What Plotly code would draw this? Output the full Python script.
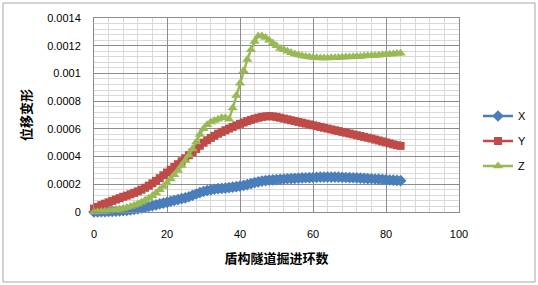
import plotly.graph_objects as go

rings = list(range(0, 85))

x_disp = [0, 0.000001, 0.000002, 0.000003, 0.000004, 0.000005, 0.000006, 0.000008, 0.00001, 0.000012,
          0.000015, 0.000018, 0.000022, 0.000027, 0.000033, 0.00004, 0.000046, 0.000052, 0.000058, 0.000064,
          0.00007, 0.000077, 0.000084, 0.00009, 0.000096, 0.000102, 0.00011, 0.00012, 0.00013, 0.00014,
          0.000148, 0.000155, 0.00016, 0.000164, 0.000168, 0.00017, 0.000173, 0.000176, 0.000179, 0.000183,
          0.000187, 0.000192, 0.000198, 0.000205, 0.000212, 0.000218, 0.000223, 0.000227, 0.00023, 0.000232,
          0.000234, 0.000236, 0.000238, 0.00024, 0.000241, 0.000243, 0.000244, 0.000246, 0.000247, 0.000248,
          0.000249, 0.00025, 0.000251, 0.000252, 0.000252, 0.000252, 0.000252, 0.000251, 0.00025, 0.000249,
          0.000248, 0.000247, 0.000246, 0.000244, 0.000243, 0.000241, 0.00024, 0.000238, 0.000237, 0.000235,
          0.000233, 0.000231, 0.00023, 0.000228, 0.000226]

y_disp = [0.000025, 0.000037, 0.00005, 0.00006, 0.00007, 0.00008, 0.00009, 0.0001, 0.00011, 0.000118,
          0.000128, 0.000138, 0.000149, 0.000161, 0.000175, 0.00019, 0.000207, 0.000225, 0.000244, 0.000265,
          0.000285, 0.000305, 0.000325, 0.000345, 0.000366, 0.000388, 0.00041, 0.000432, 0.000455, 0.000478,
          0.0005, 0.000518, 0.000535, 0.00055, 0.000565, 0.000578, 0.00059, 0.000602, 0.000614, 0.000625,
          0.000636, 0.000646, 0.000656, 0.000665, 0.000673, 0.00068, 0.000686, 0.00069, 0.000692, 0.00069,
          0.000686, 0.00068, 0.000674, 0.000668, 0.000662, 0.000656, 0.00065, 0.000644, 0.000638, 0.000632,
          0.000626, 0.00062, 0.000614, 0.000608, 0.000602, 0.000596, 0.00059, 0.000584, 0.000578, 0.000572,
          0.000566, 0.00056, 0.000554, 0.000548, 0.000542, 0.000536, 0.00053, 0.000523, 0.000516, 0.000509,
          0.000502, 0.000495, 0.000488, 0.000482, 0.000477]

z_disp = [0, 0.000001, 0.000003, 0.000005, 0.000008, 0.000011, 0.000015, 0.00002, 0.000026, 0.000033,
          0.00004, 0.000048, 0.000058, 0.00007, 0.000084, 0.0001, 0.000118, 0.000138, 0.00016, 0.000184,
          0.00021, 0.000238, 0.000268, 0.0003, 0.000335, 0.000372, 0.00041, 0.000455, 0.000505, 0.00056,
          0.0006, 0.00063, 0.00065, 0.00066, 0.00067, 0.00068, 0.00068, 0.00067, 0.00075, 0.00084,
          0.00093, 0.00102, 0.0011, 0.00117, 0.00123, 0.00127, 0.00127, 0.00126, 0.00124, 0.00122,
          0.0012, 0.00118, 0.00117, 0.00116, 0.00115, 0.00114, 0.001133, 0.001127, 0.001122, 0.001118,
          0.001115, 0.001113, 0.001112, 0.001112, 0.001112, 0.001113, 0.001114, 0.001115, 0.001116, 0.001118,
          0.001119, 0.00112, 0.001122, 0.001123, 0.001125, 0.001127, 0.001129, 0.00113, 0.001132, 0.001134,
          0.001136, 0.001138, 0.00114, 0.001143, 0.001145]

series_names = ["X", "Y", "Z"]
x_ticks = [0, 20, 40, 60, 80, 100]
y_ticks = [0, 0.0002, 0.0004, 0.0006, 0.0008, 0.001, 0.0012, 0.0014]
y_ticktext = ["0", "0.0002", "0.0004", "0.0006", "0.0008", "0.001", "0.0012", "0.0014"]
x_title = "盾构隧道掘进环数"
y_title = "位移变形"

colors = ["#4a7ebb", "#be4b48", "#98b954"]
symbols = ["diamond", "square", "triangle-up"]
sizes = [9, 8, 9]

fig = go.Figure()
for i, (name, vals) in enumerate(zip(series_names, [x_disp, y_disp, z_disp])):
    fig.add_trace(go.Scatter(
        x=rings, y=vals, name=name, mode="lines+markers",
        line=dict(color=colors[i], width=2.5),
        marker=dict(symbol=symbols[i], size=sizes[i], color=colors[i], line=dict(width=0)),
        cliponaxis=False, legendgroup=name,
    ))

W, H = 538, 285
ml, mr, mt, mb = 94, 79, 18, 73
pw, ph = W - ml - mr, H - mt - mb

fig.update_layout(
    width=W, height=H,
    margin=dict(l=ml, r=mr, t=mt, b=mb, autoexpand=False),
    paper_bgcolor="white", plot_bgcolor="white",
    font=dict(family="Liberation Sans, Arial, sans-serif", size=11, color="#000"),
    legend=dict(x=(478 - ml) / pw, y=(H - mb - 141) / ph, xanchor="left", yanchor="middle",
                font=dict(size=11), tracegroupgap=6, bgcolor="rgba(0,0,0,0)", itemwidth=30),
    xaxis=dict(range=[0, 100], tickvals=x_ticks, showgrid=True, gridcolor="#8c8c8c", gridwidth=1,
               minor=dict(dtick=4, showgrid=True, gridcolor="#d9d9d9", gridwidth=1),
               showline=True, linecolor="#8c8c8c", mirror=True, zeroline=False, automargin=False,
               ticks="", ticklabelstandoff=12,
               title=dict(text=x_title, font=dict(family="Noto Sans CJK SC", size=13, weight="bold"), standoff=14)),
    yaxis=dict(range=[0, 0.0014], tickvals=y_ticks, ticktext=y_ticktext, showgrid=True,
               gridcolor="#8c8c8c", gridwidth=1,
               minor=dict(dtick=0.00004, showgrid=True, gridcolor="#d9d9d9", gridwidth=1),
               showline=True, linecolor="#8c8c8c", mirror=True, zeroline=False, automargin=False,
               ticks="", ticklabelstandoff=10,
               title=dict(text=y_title, font=dict(family="Noto Sans CJK SC", size=13, weight="bold"), standoff=12)),
    shapes=[dict(type="rect", xref="paper", yref="paper",
                 x0=(3 - ml) / pw, x1=(535 - ml) / pw,
                 y0=(H - mb - 282) / ph, y1=(H - mb - 3) / ph,
                 line=dict(color="#a6a6a6", width=1), fillcolor="rgba(0,0,0,0)", layer="below")],
)

fig.write_html("out.html", config={"displayModeBar": False},
               post_script="document.body.style.margin='0';document.body.style.overflow='hidden';")
